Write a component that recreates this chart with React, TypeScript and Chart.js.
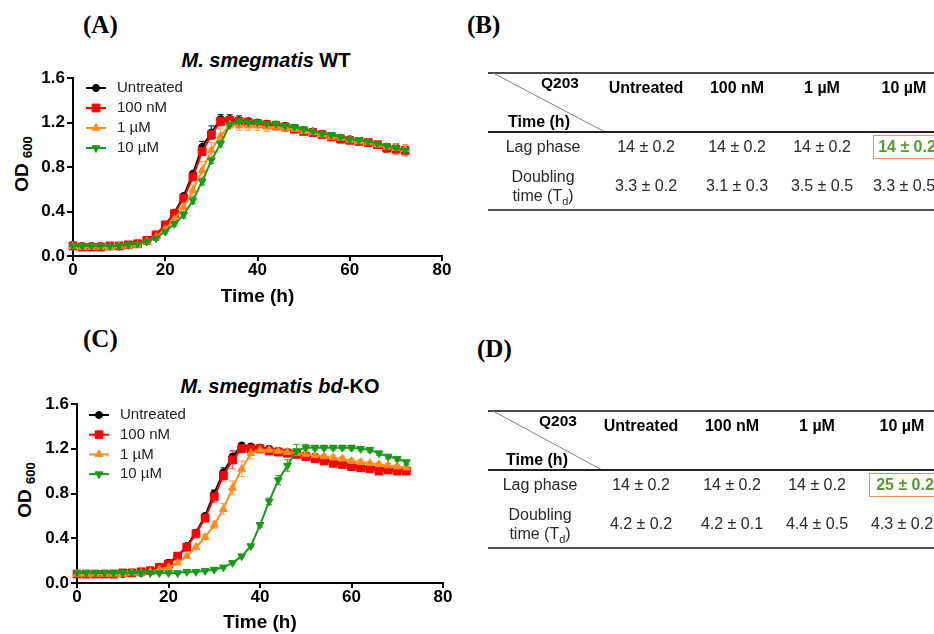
import React, { useEffect, useRef } from "react";
import { Chart, registerables } from "chart.js";
import { drawPoint } from "chart.js/helpers";

Chart.register(...registerables);

// ---------------- DATA ----------------
const TIME_H = [0, 2, 4, 6, 8, 10, 12, 14, 16, 18, 20, 22, 24, 26, 28, 30, 32, 34, 36, 38, 40, 42, 44, 46, 48, 50, 52, 54, 56, 58, 60, 62, 64, 66, 68, 70, 72];
const SERIES_LABELS = ["Untreated", "100 nM", "1 \u00b5M", "10 \u00b5M"];
const X_TICKS = [0, 20, 40, 60, 80];
const Y_TICKS = [0, 0.4, 0.8, 1.2, 1.6];

// (A) M. smegmatis WT
const WT_UNTREATED = [0.10, 0.09, 0.09, 0.09, 0.09, 0.09, 0.10, 0.11, 0.14, 0.19, 0.28, 0.39, 0.54, 0.74, 0.98, 1.11, 1.23, 1.23, 1.22, 1.21, 1.20, 1.19, 1.18, 1.17, 1.15, 1.13, 1.12, 1.10, 1.08, 1.06, 1.05, 1.03, 1.02, 1.00, 0.98, 0.96, 0.95];
const WT_100NM = [0.09, 0.08, 0.08, 0.08, 0.09, 0.09, 0.10, 0.11, 0.14, 0.19, 0.28, 0.38, 0.52, 0.71, 0.94, 1.09, 1.21, 1.22, 1.21, 1.20, 1.19, 1.18, 1.17, 1.16, 1.14, 1.12, 1.11, 1.09, 1.07, 1.05, 1.04, 1.03, 1.02, 1.00, 0.97, 0.96, 0.95];
const WT_1UM = [0.09, 0.08, 0.08, 0.08, 0.08, 0.09, 0.09, 0.10, 0.13, 0.17, 0.24, 0.33, 0.44, 0.59, 0.77, 0.95, 1.08, 1.18, 1.17, 1.17, 1.17, 1.16, 1.16, 1.15, 1.14, 1.12, 1.11, 1.09, 1.07, 1.06, 1.04, 1.03, 1.02, 1.00, 0.98, 0.97, 0.96];
const WT_10UM = [0.09, 0.09, 0.09, 0.09, 0.09, 0.09, 0.10, 0.11, 0.13, 0.16, 0.22, 0.29, 0.37, 0.50, 0.67, 0.86, 1.01, 1.18, 1.21, 1.20, 1.20, 1.19, 1.19, 1.17, 1.16, 1.14, 1.12, 1.10, 1.09, 1.07, 1.05, 1.04, 1.03, 1.01, 0.99, 0.97, 0.95];
const WT_UNTREATED_ERR = [0.01, 0.01, 0.01, 0.01, 0.01, 0.01, 0.01, 0.01, 0.01, 0.01, 0.01, 0.01, 0.02, 0.02, 0.05, 0.06, 0.04, 0.04, 0.04, 0.03, 0.02, 0.02, 0.02, 0.02, 0.02, 0.02, 0.02, 0.02, 0.02, 0.02, 0.02, 0.02, 0.02, 0.02, 0.03, 0.03, 0.03];
const WT_100NM_ERR = [0.01, 0.01, 0.01, 0.01, 0.01, 0.01, 0.01, 0.01, 0.01, 0.02, 0.02, 0.02, 0.02, 0.03, 0.03, 0.03, 0.04, 0.03, 0.03, 0.02, 0.02, 0.02, 0.02, 0.02, 0.02, 0.02, 0.02, 0.02, 0.02, 0.02, 0.02, 0.02, 0.02, 0.03, 0.04, 0.05, 0.05];
const WT_1UM_ERR = [0.01, 0.01, 0.01, 0.01, 0.01, 0.01, 0.01, 0.01, 0.01, 0.02, 0.02, 0.03, 0.04, 0.05, 0.08, 0.07, 0.06, 0.04, 0.04, 0.04, 0.04, 0.04, 0.03, 0.03, 0.02, 0.02, 0.02, 0.02, 0.02, 0.02, 0.02, 0.02, 0.02, 0.02, 0.03, 0.03, 0.03];
const WT_10UM_ERR = [0.01, 0.01, 0.01, 0.01, 0.01, 0.01, 0.01, 0.01, 0.01, 0.02, 0.02, 0.02, 0.03, 0.03, 0.03, 0.03, 0.03, 0.02, 0.02, 0.02, 0.02, 0.02, 0.02, 0.02, 0.02, 0.02, 0.02, 0.02, 0.02, 0.02, 0.02, 0.02, 0.02, 0.02, 0.02, 0.03, 0.03];

// (C) M. smegmatis bd-KO
const KO_UNTREATED = [0.08, 0.08, 0.08, 0.08, 0.08, 0.08, 0.09, 0.09, 0.11, 0.14, 0.18, 0.24, 0.33, 0.45, 0.60, 0.80, 0.99, 1.13, 1.23, 1.22, 1.21, 1.20, 1.18, 1.17, 1.16, 1.14, 1.13, 1.11, 1.09, 1.07, 1.06, 1.05, 1.04, 1.03, 1.02, 1.02, 1.01];
const KO_100NM = [0.08, 0.08, 0.08, 0.08, 0.08, 0.09, 0.09, 0.10, 0.11, 0.14, 0.17, 0.24, 0.32, 0.44, 0.58, 0.77, 0.96, 1.10, 1.20, 1.20, 1.20, 1.18, 1.17, 1.16, 1.15, 1.13, 1.11, 1.09, 1.07, 1.06, 1.04, 1.03, 1.02, 1.00, 1.01, 1.00, 1.00];
const KO_1UM = [0.08, 0.08, 0.08, 0.08, 0.08, 0.08, 0.09, 0.09, 0.10, 0.12, 0.14, 0.18, 0.24, 0.32, 0.41, 0.52, 0.66, 0.85, 1.02, 1.16, 1.19, 1.19, 1.18, 1.17, 1.16, 1.15, 1.14, 1.13, 1.12, 1.11, 1.09, 1.08, 1.07, 1.06, 1.05, 1.04, 1.03];
const KO_10UM = [0.09, 0.09, 0.09, 0.09, 0.09, 0.09, 0.09, 0.09, 0.09, 0.09, 0.09, 0.09, 0.10, 0.10, 0.11, 0.12, 0.14, 0.18, 0.24, 0.33, 0.52, 0.73, 0.92, 1.05, 1.18, 1.21, 1.21, 1.21, 1.21, 1.21, 1.21, 1.20, 1.19, 1.16, 1.13, 1.11, 1.08];
const KO_UNTREATED_ERR = [0.01, 0.01, 0.01, 0.01, 0.01, 0.01, 0.01, 0.01, 0.01, 0.01, 0.01, 0.01, 0.01, 0.02, 0.02, 0.03, 0.04, 0.05, 0.02, 0.02, 0.02, 0.02, 0.02, 0.02, 0.02, 0.02, 0.02, 0.02, 0.02, 0.02, 0.02, 0.02, 0.02, 0.02, 0.02, 0.02, 0.02];
const KO_100NM_ERR = [0.01, 0.01, 0.01, 0.01, 0.01, 0.01, 0.01, 0.01, 0.01, 0.01, 0.01, 0.01, 0.01, 0.02, 0.03, 0.05, 0.05, 0.08, 0.03, 0.02, 0.02, 0.02, 0.02, 0.02, 0.02, 0.02, 0.02, 0.02, 0.02, 0.02, 0.02, 0.02, 0.02, 0.02, 0.02, 0.02, 0.02];
const KO_1UM_ERR = [0.01, 0.01, 0.01, 0.01, 0.01, 0.01, 0.01, 0.01, 0.01, 0.01, 0.01, 0.01, 0.01, 0.01, 0.02, 0.03, 0.05, 0.06, 0.07, 0.05, 0.03, 0.03, 0.03, 0.02, 0.02, 0.02, 0.02, 0.02, 0.02, 0.02, 0.02, 0.02, 0.02, 0.02, 0.02, 0.02, 0.02];
const KO_10UM_ERR = [0.01, 0.01, 0.01, 0.01, 0.01, 0.01, 0.01, 0.01, 0.01, 0.01, 0.01, 0.01, 0.01, 0.01, 0.01, 0.01, 0.01, 0.01, 0.01, 0.01, 0.02, 0.03, 0.04, 0.05, 0.06, 0.03, 0.02, 0.02, 0.02, 0.02, 0.02, 0.02, 0.02, 0.02, 0.02, 0.02, 0.02];

// Tables (B) and (D)
const TABLE_COLUMNS = ["Untreated", "100 nM", "1 \u00b5M", "10 \u00b5M"];
const WT_LAG = ["14 \u00b1 0.2", "14 \u00b1 0.2", "14 \u00b1 0.2", "14 \u00b1 0.2"];
const WT_DOUBLING = ["3.3 \u00b1 0.2", "3.1 \u00b1 0.3", "3.5 \u00b1 0.5", "3.3 \u00b1 0.5"];
const KO_LAG = ["14 \u00b1 0.2", "14 \u00b1 0.2", "14 \u00b1 0.2", "25 \u00b1 0.2"];
const KO_DOUBLING = ["4.2 \u00b1 0.2", "4.2 \u00b1 0.1", "4.4 \u00b1 0.5", "4.3 \u00b1 0.2"];
const HIGHLIGHT_COLUMN = 3;

// ---------------- STYLE ----------------
const SANS = '"Liberation Sans", Arial, Helvetica, sans-serif';
const SERIF = '"Liberation Serif", "Times New Roman", serif';

const SERIES_STYLE = [
  { color: "#000000", err: "#3a3a3a", pointStyle: "circle", radius: 3.5, rotation: 0, order: 4 },
  { color: "#ff0000", err: "#ff6464", pointStyle: "rect", radius: 5.5, rotation: 0, order: 3 },
  { color: "#ff8c1a", err: "#ffa850", pointStyle: "triangle", radius: 4.5, rotation: 0, order: 2 },
  { color: "#1a9a1a", err: "#3eb03e", pointStyle: "triangle", radius: 4.5, rotation: 180, order: 1 },
];

const errorBarPlugin = {
  id: "errorBars",
  beforeDatasetsDraw(chart: any) {
    const { ctx } = chart;
    const yScale = chart.scales.y;
    ctx.save();
    chart.data.datasets.forEach((ds: any, i: number) => {
      const meta = chart.getDatasetMeta(i);
      ctx.strokeStyle = ds.errorColor;
      ctx.lineWidth = 1.2;
      meta.data.forEach((el: any, j: number) => {
        const v = ds.data[j].y;
        const e = ds.errors[j];
        const yt = yScale.getPixelForValue(v + e);
        const yb = yScale.getPixelForValue(v - e);
        ctx.beginPath();
        ctx.moveTo(el.x, yt);
        ctx.lineTo(el.x, yb);
        ctx.moveTo(el.x - 3, yt);
        ctx.lineTo(el.x + 3, yt);
        ctx.moveTo(el.x - 3, yb);
        ctx.lineTo(el.x + 3, yb);
        ctx.stroke();
      });
    });
    ctx.restore();
  },
};

const seriesLegendPlugin = {
  id: "seriesLegend",
  afterDatasetsDraw(chart: any, _args: any, opts: any) {
    const { ctx, chartArea } = chart;
    ctx.save();
    chart.data.datasets.forEach((ds: any, i: number) => {
      const y = chartArea.top + opts.top + i * opts.spacing;
      const x0 = chartArea.left + opts.lineStart;
      const x1 = chartArea.left + opts.lineEnd;
      ctx.strokeStyle = ds.borderColor;
      ctx.lineWidth = 2;
      ctx.beginPath();
      ctx.moveTo(x0, y);
      ctx.lineTo(x1, y);
      ctx.stroke();
      ctx.fillStyle = ds.pointBackgroundColor;
      ctx.strokeStyle = ds.pointBorderColor;
      ctx.lineWidth = 1;
      drawPoint(ctx, { pointStyle: ds.pointStyle, rotation: ds.pointRotation || 0, radius: ds.pointRadius, borderWidth: 1 } as any, (x0 + x1) / 2, y);
      ctx.fillStyle = "#222";
      ctx.font = `15px ${SANS}`;
      ctx.textAlign = "left";
      ctx.textBaseline = "middle";
      ctx.fillText(ds.label, chartArea.left + opts.textStart, y);
    });
    ctx.restore();
  },
};

type SeriesIn = { values: number[]; errors: number[] };

function GrowthChart(props: {
  top: number;
  height: number;
  yAxisWidth: number;
  padTop: number;
  padRight: number;
  xAxisHeight: number;
  xTitlePad: number;
  series: SeriesIn[];
  legend: { top: number; spacing: number; lineStart: number; lineEnd: number; textStart: number };
}) {
  const ref = useRef<HTMLCanvasElement>(null);
  useEffect(() => {
    const datasets = props.series.map((s, i) => {
      const st = SERIES_STYLE[i];
      return {
        label: SERIES_LABELS[i],
        data: TIME_H.map((t, j) => ({ x: t, y: s.values[j] })),
        errors: s.errors,
        errorColor: st.err,
        borderColor: st.color,
        backgroundColor: st.color,
        pointBackgroundColor: st.color,
        pointBorderColor: st.color,
        pointStyle: st.pointStyle,
        pointRotation: st.rotation,
        pointRadius: st.radius,
        pointBorderWidth: 1,
        borderWidth: 2,
        tension: 0,
        clip: false,
        order: st.order,
      };
    });
    const tickFont = { family: SANS, size: 17, weight: "bold" as const, lineHeight: 1 };
    const chart = new Chart(ref.current!, {
      type: "line",
      data: { datasets: datasets as any },
      options: {
        animation: false,
        responsive: false,
        devicePixelRatio: 1,
        layout: { padding: { left: 0, right: props.padRight, top: props.padTop, bottom: 0 } },
        plugins: {
          legend: { display: false },
          tooltip: { enabled: false },
          title: { display: false },
          seriesLegend: props.legend,
        } as any,
        scales: {
          x: {
            type: "linear",
            min: X_TICKS[0],
            max: X_TICKS[X_TICKS.length - 1],
            afterBuildTicks: (scale: any) => {
              scale.ticks = X_TICKS.map((v) => ({ value: v }));
            },
            ticks: { color: "#000", font: tickFont, padding: 1, maxRotation: 0, callback: (v: any) => String(v) },
            grid: { drawOnChartArea: false, drawTicks: true, tickLength: 5, color: "#000", lineWidth: 2 },
            border: { display: true, color: "#000", width: 2 },
            title: {
              display: true,
              text: "Time (h)",
              color: "#000",
              font: { family: SANS, size: 19, weight: "bold" },
              padding: { top: 0, bottom: props.xTitlePad },
            },
            afterFit: (scale: any) => {
              scale.height = props.xAxisHeight;
            },
          },
          y: {
            type: "linear",
            min: Y_TICKS[0],
            max: Y_TICKS[Y_TICKS.length - 1],
            afterBuildTicks: (scale: any) => {
              scale.ticks = Y_TICKS.map((v) => ({ value: v }));
            },
            ticks: { color: "#000", font: tickFont, padding: 2, callback: (v: any) => Number(v).toFixed(1) },
            grid: { drawOnChartArea: false, drawTicks: true, tickLength: 6, color: "#000", lineWidth: 2 },
            border: { display: true, color: "#000", width: 2 },
            afterFit: (scale: any) => {
              scale.width = props.yAxisWidth;
            },
          },
        },
      } as any,
      plugins: [errorBarPlugin, seriesLegendPlugin],
    });
    return () => chart.destroy();
  }, []);
  return (
    <canvas
      ref={ref}
      width={470}
      height={props.height}
      style={{ position: "absolute", left: 0, top: props.top, width: 470, height: props.height }}
    />
  );
}

function Txt(props: {
  x: number;
  y: number;
  size: number;
  weight?: number;
  italic?: boolean;
  color?: string;
  align?: "center" | "left";
  family?: string;
  children: React.ReactNode;
}) {
  const tx = props.align === "left" ? "0" : "-50%";
  return (
    <div
      style={{
        position: "absolute",
        left: props.x,
        top: props.y,
        transform: `translate(${tx}, -50%)`,
        fontSize: props.size,
        lineHeight: `${props.size}px`,
        fontWeight: props.weight ?? 400,
        fontStyle: props.italic ? "italic" : "normal",
        color: props.color ?? "#000",
        fontFamily: props.family ?? SANS,
        whiteSpace: "nowrap",
      }}
    >
      {props.children}
    </div>
  );
}

function YTitle({ x, y }: { x: number; y: number }) {
  return (
    <div
      style={{
        position: "absolute",
        left: x,
        top: y,
        transform: "translate(-50%, -50%) rotate(-90deg)",
        fontFamily: SANS,
        fontWeight: 700,
        fontSize: 19,
        lineHeight: "19px",
        whiteSpace: "nowrap",
        color: "#000",
      }}
    >
      OD <span style={{ fontSize: 13, position: "relative", top: 4 }}>600</span>
    </div>
  );
}

function ResultsTable(props: {
  top: number;
  x0: number;
  labelX: number;
  q203X: number;
  timeX: number;
  diagEndX: number;
  colX: number[];
  lag: string[];
  doubling: string[];
  boxLeft: number;
}) {
  const { top, x0 } = props;
  const line = (y: number, h: number, color: string) => (
    <div style={{ position: "absolute", left: x0, top: y - h / 2, width: 960 - x0, height: h, background: color }} />
  );
  const body = "#2a2a2a";
  return (
    <>
      {line(top, 2, "#4a4a4a")}
      <svg style={{ position: "absolute", left: 0, top: 0 }} width={934} height={634}>
        <line x1={x0 + 5} y1={top} x2={props.diagEndX} y2={top + 59} stroke="#808080" strokeWidth={1} />
      </svg>
      <Txt x={props.q203X} y={top + 10} size={15.5} weight={700}>Q203</Txt>
      {TABLE_COLUMNS.map((c, i) => (
        <Txt key={c} x={props.colX[i]} y={top + 15} size={16} weight={700}>
          {c}
        </Txt>
      ))}
      <Txt x={props.timeX} y={top + 49} size={16} weight={700}>Time (h)</Txt>
      {line(top + 59, 2.5, "#222")}
      <Txt x={props.labelX} y={top + 74} size={16} color={body}>Lag phase</Txt>
      {props.lag.map((v, i) =>
        i === HIGHLIGHT_COLUMN ? (
          <Txt key={i} x={props.colX[i] + 3} y={top + 74} size={16} weight={700} color="#5a9a35">
            {v}
          </Txt>
        ) : (
          <Txt key={i} x={props.colX[i]} y={top + 74} size={16} color={body}>
            {v}
          </Txt>
        )
      )}
      <div
        style={{
          position: "absolute",
          left: props.boxLeft,
          top: top + 62,
          width: 80,
          height: 22,
          border: "1.5px solid #f09050",
        }}
      />
      <Txt x={props.labelX} y={top + 104} size={16} color={body}>Doubling</Txt>
      <Txt x={props.labelX} y={top + 123} size={16} color={body}>
        time (T<span style={{ fontSize: 11, position: "relative", top: 4 }}>d</span>)
      </Txt>
      {props.doubling.map((v, i) => (
        <Txt key={i} x={props.colX[i]} y={top + 113} size={16} color={body}>
          {v}
        </Txt>
      ))}
      {line(top + 137, 2, "#555")}
    </>
  );
}

export default function App() {
  return (
    <div
      style={{
        position: "absolute",
        left: 0,
        top: 0,
        width: 934,
        height: 634,
        overflow: "hidden",
        background: "#fff",
        fontFamily: SANS,
      }}
    >
      {/* Panel labels */}
      <Txt x={83} y={24} size={25} weight={700} family={SERIF} align="left">(A)</Txt>
      <Txt x={467} y={24} size={25} weight={700} family={SERIF} align="left">(B)</Txt>
      <Txt x={83} y={338} size={25} weight={700} family={SERIF} align="left">(C)</Txt>
      <Txt x={477} y={348} size={25} weight={700} family={SERIF} align="left">(D)</Txt>

      {/* (A) */}
      <Txt x={266} y={60} size={20} weight={700}>
        <i>M. smegmatis</i> WT
      </Txt>
      <YTitle x={22} y={164} />
      <GrowthChart
        top={40}
        height={270}
        yAxisWidth={73}
        padTop={38}
        padRight={28}
        xAxisHeight={54}
        xTitlePad={2}
        series={[
          { values: WT_UNTREATED, errors: WT_UNTREATED_ERR },
          { values: WT_100NM, errors: WT_100NM_ERR },
          { values: WT_1UM, errors: WT_1UM_ERR },
          { values: WT_10UM, errors: WT_10UM_ERR },
        ]}
        legend={{ top: 10, spacing: 20, lineStart: 13, lineEnd: 33, textStart: 44 }}
      />

      {/* (C) */}
      <Txt x={280} y={386} size={20} weight={700}>
        <i>M. smegmatis bd</i>-KO
      </Txt>
      <YTitle x={25} y={490} />
      <GrowthChart
        top={350}
        height={284}
        yAxisWidth={77}
        padTop={54}
        padRight={27}
        xAxisHeight={51}
        xTitlePad={0}
        series={[
          { values: KO_UNTREATED, errors: KO_UNTREATED_ERR },
          { values: KO_100NM, errors: KO_100NM_ERR },
          { values: KO_1UM, errors: KO_1UM_ERR },
          { values: KO_10UM, errors: KO_10UM_ERR },
        ]}
        legend={{ top: 11, spacing: 19.7, lineStart: 12, lineEnd: 32, textStart: 43 }}
      />

      {/* (B) */}
      <ResultsTable
        top={73}
        x0={488}
        labelX={543}
        q203X={560}
        timeX={539}
        diagEndX={605}
        colX={[646, 737, 822, 904]}
        lag={WT_LAG}
        doubling={WT_DOUBLING}
        boxLeft={873}
      />

      {/* (D) */}
      <ResultsTable
        top={411}
        x0={488}
        labelX={540}
        q203X={558}
        timeX={537}
        diagEndX={602}
        colX={[641, 732, 817, 902]}
        lag={KO_LAG}
        doubling={KO_DOUBLING}
        boxLeft={869}
      />
    </div>
  );
}
